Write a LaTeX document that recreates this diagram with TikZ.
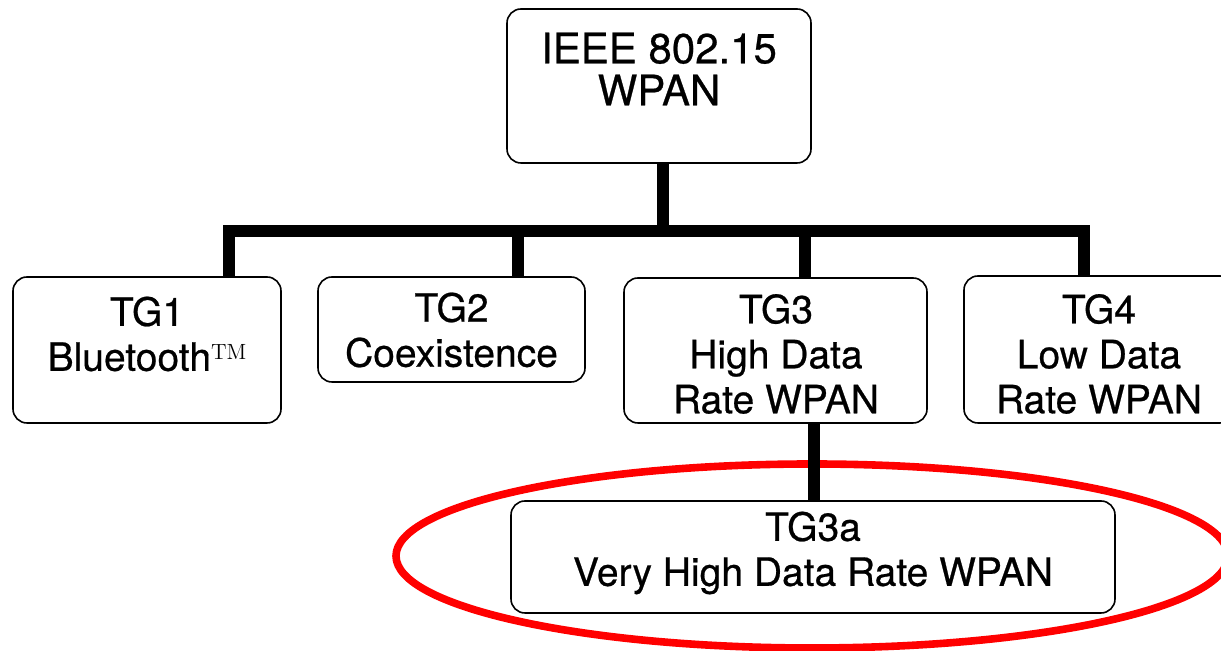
\documentclass[tikz,border=0pt]{standalone}
\usepackage{fontspec}
\setsansfont{TeX Gyre Heros}[FakeBold=0.6]
\usetikzlibrary{positioning}

\tikzset{
  tgbox/.style={draw=black, line width=0.8pt, rounded corners=7pt, fill=white},
  tgtext/.style={align=center, inner sep=0pt, font=\sffamily\fontsize{19.5}{22.5}\selectfont},
  toptext/.style={align=center, inner sep=0pt, font=\sffamily\fontsize{21}{21}\selectfont},
  bus/.style={line width=6.25pt},
  hilite/.style={draw=red, line width=3.8pt}
}

\begin{document}
\begin{tikzpicture}[x=0.5pt,y=0.5pt]
\useasboundingbox (0,0) rectangle (1221,651);
% Highlight round TG3a
\draw[hilite] (812,95) ellipse (416 and 92);
% Drawing boxes
\node[tgbox, minimum width=152pt, minimum height=77pt] (wpan) at (659,565) {};
\node[toptext] (wpan-txt) at (659,582) {IEEE 802.15\\WPAN};
\node[tgbox, minimum width=134pt, minimum height=73pt] (tg1) at (147,301) {};
\node[tgtext] (tg1-txt) at (147,317) {TG1\\Bluetooth\raisebox{5.5pt}{\rmfamily\fontsize{11}{11}\selectfont TM}};
\node[tgbox, minimum width=133.5pt, minimum height=52.5pt] (tg2) at (451.5,321.5) {};
\node[tgtext] (tg2-txt) at (451.5,321) {TG2\\Coexistence};
\node[tgbox, minimum width=151.5pt, minimum height=72.5pt] (tg3) at (775.5,300.5) {};
\node[tgtext] (tg3-txt) at (776,297) {TG3\\High Data\\Rate WPAN};
\node[tgbox, minimum width=135pt, minimum height=73.5pt] (tg4) at (1099,301.5) {};
\node[tgtext] (tg4-txt) at (1099,297) {TG4\\Low Data\\Rate WPAN};
\node[tgbox, minimum width=302pt, minimum height=56pt] (tg3a) at (813,94) {};
\node[tgtext] (tg3a-txt) at (813,98) {TG3a\\Very High Data Rate WPAN};
% Drawing bus and drops
\coordinate (busL) at (229,420);
\coordinate (busR) at (1084,420);
\coordinate (stem0) at (663,420);
\coordinate (drop2) at (518,420);
\coordinate (drop3) at (805,420);
\coordinate (sub3) at (814,0);
\draw[bus] (busL |- tg1.north) -- (busL) -- (busR) -- (busR |- tg4.north);
\draw[bus] (stem0 |- wpan.south) -- (stem0);
\draw[bus] (drop2) -- (drop2 |- tg2.north);
\draw[bus] (drop3) -- (drop3 |- tg3.north);
\draw[bus] (sub3 |- tg3.south) -- (sub3 |- tg3a.north);
\end{tikzpicture}
\end{document}
